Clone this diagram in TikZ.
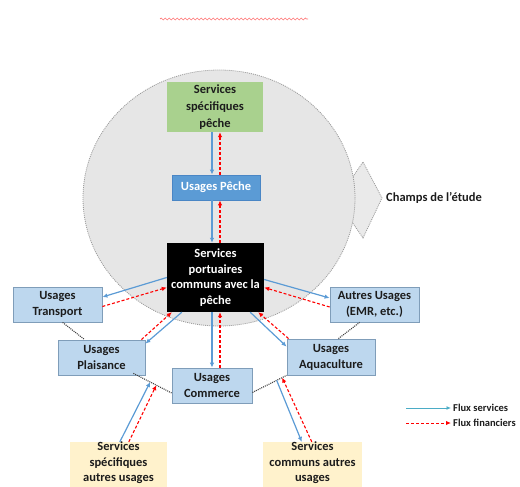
\documentclass[tikz,border=0pt]{standalone}
\usepackage{fontspec}
\setmainfont{Carlito}
\usetikzlibrary{arrows.meta,calc,decorations.pathmorphing}
\definecolor{circfill}{HTML}{E6E6E6}
\definecolor{circline}{HTML}{9A9A9A}
\definecolor{greenbox}{HTML}{A9D18E}
\definecolor{pechebox}{HTML}{5B9BD5}
\definecolor{pecheline}{HTML}{4A86C5}
\definecolor{lightblue}{HTML}{BDD7EE}
\definecolor{lightline}{HTML}{7F9DB9}
\definecolor{yellowbox}{HTML}{FFF2CC}
\definecolor{flowblue}{HTML}{5B9BD5}
\definecolor{legblue}{HTML}{4BACC6}
\definecolor{flowred}{HTML}{FF0000}
\definecolor{txtdark}{HTML}{1C1C1C}
\begin{document}
\begin{tikzpicture}[x=1pt,y=-1pt,
  boxfont/.style={font=\fontsize{12.5}{16}\selectfont\bfseries},
  basebox/.style={boxfont, align=center, inner sep=0pt},
  ubox/.style={basebox, draw=lightline, line width=0.8pt, fill=lightblue, text=txtdark},
  ybox/.style={basebox, fill=yellowbox, text=txtdark, font=\fontsize{12.5}{15.5}\selectfont\bfseries, text depth=9pt},
  svc/.style={draw=flowblue, line width=1.2pt, -{Latex[length=5pt,width=4.5pt]}},
  fin/.style={draw=flowred, line width=1.1pt, dash pattern=on 3pt off 2pt, -{Latex[length=5pt,width=4.5pt]}},
  grp/.style={draw=black!75, line width=1.1pt, dash pattern=on 1pt off 1pt}]
\useasboundingbox (0,0) rectangle (520,487);
\clip (0,0) rectangle (520,487);

% spell-check wave at top
\draw[draw=red!55, line width=0.7pt, decorate, decoration={snake, amplitude=1pt, segment length=4pt}] (160,19) -- (308,19);

% scope arrow and circle
\path[fill=circfill!85!white, draw=circline, line width=0.8pt, dash pattern=on 1pt off 1pt]
  (363,162) -- (382,198) -- (363,238) -- (352,222) -- (352,178) -- cycle;
\path[fill=circfill, draw=circline, line width=0.8pt, dash pattern=on 1pt off 1pt]
  (219,198) ellipse [x radius=136pt, y radius=128pt];
\node[anchor=west, font=\fontsize{12.5}{14}\selectfont\bfseries, text=txtdark, inner sep=0pt] (champ) at (386,198) {Champs de l’étude};

% boxes
\node[basebox, fill=greenbox, text=txtdark, minimum width=96pt, minimum height=50pt, font=\fontsize{12.5}{17}\selectfont\bfseries] (green) at (215,107) {Services\\spécifiques\\pêche};
\node[basebox, fill=pechebox, draw=pecheline, line width=0.8pt, text=white, minimum width=88pt, minimum height=25pt] (peche) at (216,187.5) {Usages Pêche};
\node[basebox, fill=black, text=white, minimum width=97pt, minimum height=69pt, font=\fontsize{12.5}{15.5}\selectfont\bfseries] (port) at (215.5,277.5) {Services\\portuaires\\communs avec la\\pêche};
\node[ubox, minimum width=89pt, minimum height=35pt] (transport) at (57.5,304.5) {Usages\\Transport};
\node[ubox, minimum width=87pt, minimum height=35pt] (plais) at (101.5,357.5) {Usages\\Plaisance};
\node[ubox, minimum width=80pt, minimum height=35pt] (comm) at (212,385.5) {Usages\\Commerce};
\node[ubox, minimum width=89pt, minimum height=35pt] (autres) at (374.5,304.5) {Autres Usages\\(EMR, etc.)};
\node[ubox, minimum width=88pt, minimum height=36pt] (aqua) at (331,357) {Usages\\Aquaculture};
\node[ybox, minimum width=97pt, minimum height=47pt] (specA) at (118.5,466.5) {Services\\spécifiques\\autres usages};
\node[ybox, minimum width=99pt, minimum height=47pt] (commA) at (312.5,466.5) {Services\\communs autres\\usages};

% lanes for vertical flows
\coordinate (xb) at (212,0);
\coordinate (xr) at (220,0);

% vertical flows
\draw[svc] (green.south -| xb) -- (peche.north -| xb);
\draw[fin] (peche.north -| xr) -- (green.south -| xr);
\draw[svc] (peche.south -| xb) -- (port.north -| xb);
\draw[fin] (port.north -| xr) -- (peche.south -| xr);
\draw[svc] (port.south -| xb) -- (comm.north -| xb);
\draw[fin] (comm.north -| xr) -- (port.south -| xr);

% port <-> transport
\draw[svc] (port.west) -- ($(transport.east)+(0,-7.5)$);
\draw[fin] ($(transport.east)+(0,2)$) -- ($(port.west)+(0,10)$);
% port <-> autres
\draw[svc] ($(port.east)+(0,2)$) -- ($(autres.west)+(0,-6.5)$);
\draw[fin] ($(autres.west)+(0,2.5)$) -- ($(port.east)+(0,10)$);
% port <-> plaisance
\draw[svc] ($(port.south west)+(15,0)$) -- ($(plais.north east)+(0,4)$);
\draw[fin] ($(plais.north east)+(-4,0)$) -- ($(port.south west)+(5,0)$);
% port <-> aquaculture
\draw[svc] ($(port.south east)+(-14,0)$) -- ($(aqua.north west)+(0,8)$);
\draw[fin] ($(aqua.north west)+(2,0)$) -- ($(port.south east)+(-6,0)$);

% grouping dotted links between usages
\draw[grp] ($(transport.south west)+(50,0)$) -- ($(plais.north west)+(27,0)$);
\draw[grp] ($(plais.south east)+(-12,-2)$) -- ($(comm.west)+(0,7.5)$)
  coordinate[pos=0.44] (lb) coordinate[pos=0.6] (lr);
\draw[grp] ($(comm.east)+(0,7)$) -- (aqua.south west)
  coordinate[pos=0.71] (rb) coordinate[pos=0.87] (rr);
\draw[grp] ($(aqua.north east)+(-37,0)$) -- ($(autres.south west)+(30,0)$);

% bottom flows
\draw[svc] ($(specA.north west)+(50,0)$) -- (lb);
\draw[fin] ($(specA.north west)+(59,0)$) -- (lr);
\draw[svc] (rb) -- ($(commA.north west)+(39,0)$);
\draw[fin] ($(commA.north west)+(49,0)$) -- (rr);

% legend
\node[anchor=west, inner sep=0pt, font=\fontsize{10.5}{12}\selectfont\bfseries, text=txtdark] (leg1) at (453,408) {Flux services};
\node[anchor=west, inner sep=0pt, font=\fontsize{10.5}{12}\selectfont\bfseries, text=txtdark] (leg2) at (453,423) {Flux financiers};
\coordinate (la) at (406,408);
\coordinate (lb2) at (406,423);
\draw[draw=legblue, line width=1pt, -{Latex[length=4.5pt,width=4pt]}] (la) -- ($(leg1.west)+(-2,0)$);
\draw[fin, line width=1pt] (lb2) -- ($(leg2.west)+(-2,0)$);
\end{tikzpicture}
\end{document}
